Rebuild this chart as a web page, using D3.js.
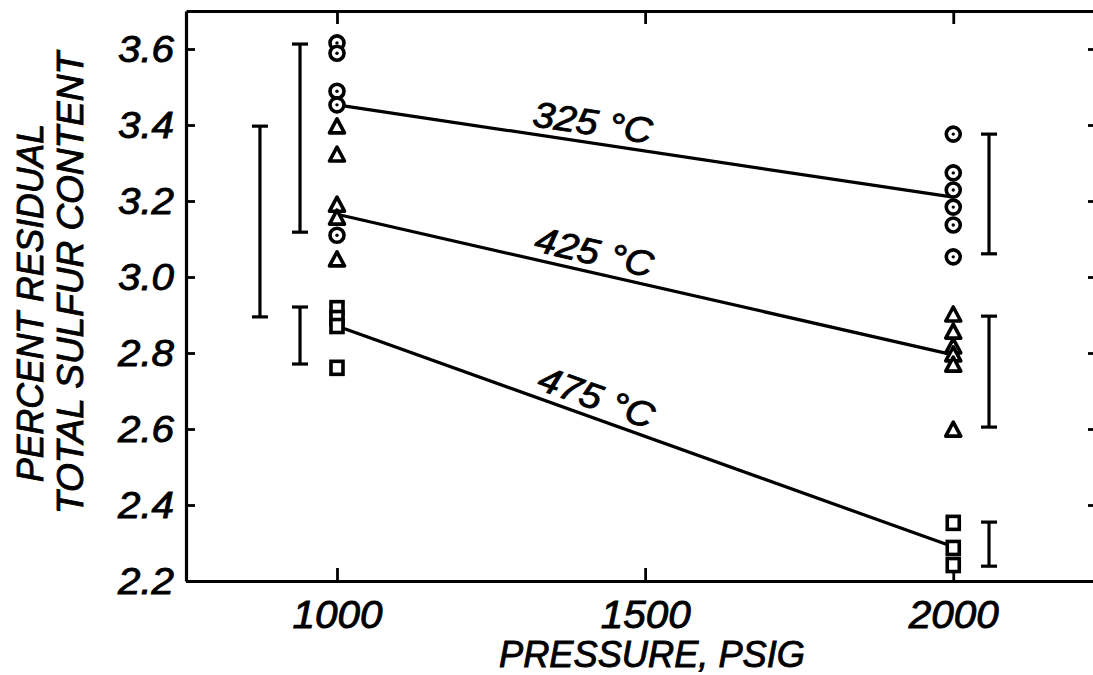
<!DOCTYPE html>
<html>
<head>
<meta charset="utf-8">
<script src="https://d3js.org/d3.v7.min.js"></script>
<style>
  body { margin: 0; background: #fff; }
  text { font-family: "Liberation Sans", Arial, sans-serif; font-style: italic; fill: #000;
         stroke: #000; stroke-width: 0.9px; }
</style>
</head>
<body>
<script>
// readings taken off the chart
var xTicks = [1000, 1500, 2000];
var yTicks = [2.2, 2.4, 2.6, 2.8, 3.0, 3.2, 3.4, 3.6];

var circles1000   = [3.616, 3.589, 3.489, 3.453, 3.11];
var triangles1000 = [3.395, 3.321, 3.189, 3.155, 3.045];
var squares1000   = [2.918, 2.892, 2.871, 2.761];
var circles2000   = [3.376, 3.274, 3.229, 3.184, 3.137, 3.053];
var triangles2000 = [2.900, 2.855, 2.816, 2.795, 2.768, 2.597];
var squares2000   = [2.353, 2.287, 2.242];

var lineLabels = ["325 °C", "425 °C", "475 °C"];
var lineStart  = [3.453, 3.165, 2.871];   // at 1000 psig
var lineEnd    = [3.21, 2.795, 2.29];     // at 2000 psig

var barPressure = [875, 940, 940, 2058, 2058, 2058];
var barLow      = [2.895, 3.118, 2.771, 3.061, 2.605, 2.239];
var barHigh     = [3.397, 3.613, 2.921, 3.376, 2.897, 2.355];

var width = 1093, height = 675;

var svg = d3.select("body").append("svg")
    .attr("width", width)
    .attr("height", height);

var x = d3.scaleLinear().domain([755, 2230]).range([186, 1095]);
var y = d3.scaleLinear().domain([2.2, 3.7]).range([581, 11]);

// frame + ticks
var left = svg.append("g").attr("transform", "translate(186,0)")
    .call(d3.axisLeft(y).tickValues(yTicks).tickSize(-9).tickSizeOuter(0)
        .tickPadding(12).tickFormat(d3.format(".1f")));
var bottom = svg.append("g").attr("transform", "translate(0,581)")
    .call(d3.axisBottom(x).tickValues(xTicks).tickSize(-13).tickSizeOuter(0)
        .tickPadding(12).tickFormat(d3.format("d")));
var top = svg.append("g").attr("transform", "translate(0,11)")
    .call(d3.axisTop(x).tickValues(xTicks).tickSize(-13).tickSizeOuter(0).tickFormat(""));
var right = svg.append("g").attr("transform", "translate(1095,0)")
    .call(d3.axisRight(y).tickValues(yTicks).tickSize(-7).tickSizeOuter(0).tickFormat(""));

svg.selectAll(".domain").attr("stroke", "#000").attr("stroke-width", 3.2);
svg.selectAll(".tick line").attr("stroke", "#000").attr("stroke-width", 2.8);
left.selectAll("text").style("font-size", "36px").attr("dy", "0.36em")
    .attr("textLength", 56).attr("lengthAdjust", "spacingAndGlyphs");
bottom.selectAll("text").style("font-size", "39px").attr("dy", "0.9em")
    .attr("textLength", 90).attr("lengthAdjust", "spacingAndGlyphs");

// axis titles
svg.append("text")
    .attr("x", 652).attr("y", 667)
    .attr("text-anchor", "middle")
    .attr("textLength", 306).attr("lengthAdjust", "spacingAndGlyphs")
    .style("font-size", "36px")
    .text("PRESSURE, PSIG");

svg.append("text")
    .attr("transform", "translate(43,303) rotate(-90)")
    .attr("text-anchor", "middle")
    .attr("textLength", 358).attr("lengthAdjust", "spacingAndGlyphs")
    .style("font-size", "37px")
    .text("PERCENT RESIDUAL");
svg.append("text")
    .attr("transform", "translate(83,283) rotate(-90)")
    .attr("text-anchor", "middle")
    .attr("textLength", 462).attr("lengthAdjust", "spacingAndGlyphs")
    .style("font-size", "37px")
    .text("TOTAL SULFUR CONTENT");

// error bars
var bars = svg.append("g").attr("stroke", "#000").attr("stroke-width", 3.2).attr("fill", "none");
barPressure.forEach(function(p, i) {
    var bx = x(p);
    bars.append("line").attr("x1", bx).attr("x2", bx).attr("y1", y(barLow[i])).attr("y2", y(barHigh[i]));
    bars.append("line").attr("x1", bx - 8).attr("x2", bx + 8).attr("y1", y(barLow[i])).attr("y2", y(barLow[i]));
    bars.append("line").attr("x1", bx - 8).attr("x2", bx + 8).attr("y1", y(barHigh[i])).attr("y2", y(barHigh[i]));
});

// fitted lines and their labels
lineLabels.forEach(function(lab, i) {
    var x1 = x(1000), y1 = y(lineStart[i]), x2 = x(2000), y2 = y(lineEnd[i]);
    svg.append("line")
        .attr("x1", x1).attr("y1", y1).attr("x2", x2).attr("y2", y2)
        .attr("stroke", "#000").attr("stroke-width", 3.2);
    var t = (1410 - 1000) / 1000;
    var lx = x1 + t * (x2 - x1), ly = y1 + t * (y2 - y1);
    var ang = Math.atan2(y2 - y1, x2 - x1) * 180 / Math.PI;
    svg.append("text")
        .attr("transform", "translate(" + lx + "," + ly + ") rotate(" + ang + ")")
        .attr("text-anchor", "middle")
        .attr("y", -8)
        .attr("textLength", 120).attr("lengthAdjust", "spacingAndGlyphs")
        .style("font-size", "36px")
        .text(lab);
});

// markers
function drawCircles(vals, p) {
    var g = svg.append("g");
    g.selectAll("circle.o").data(vals).enter().append("circle")
        .attr("cx", x(p)).attr("cy", function(d) { return y(d); })
        .attr("r", 7).attr("fill", "#fff").attr("stroke", "#000").attr("stroke-width", 3.6);
    g.selectAll("circle.dot").data(vals).enter().append("circle")
        .attr("cx", x(p)).attr("cy", function(d) { return y(d); })
        .attr("r", 1.7).attr("fill", "#000");
}
function drawTriangles(vals, p) {
    svg.append("g").selectAll("path").data(vals).enter().append("path")
        .attr("d", function(d) {
            var cx = x(p), cy = y(d);
            return "M" + cx + "," + (cy - 8) + "L" + (cx + 7.5) + "," + (cy + 6) + "L" + (cx - 7.5) + "," + (cy + 6) + "Z";
        })
        .attr("fill", "#fff").attr("stroke", "#000").attr("stroke-width", 3.6).attr("stroke-linejoin", "round");
}
function drawSquares(vals, p) {
    svg.append("g").selectAll("rect").data(vals).enter().append("rect")
        .attr("x", x(p) - 6).attr("y", function(d) { return y(d) - 6.5; })
        .attr("width", 12).attr("height", 13)
        .attr("fill", "#fff").attr("stroke", "#000").attr("stroke-width", 3.6);
}

drawTriangles(triangles1000, 1000);
drawTriangles(triangles2000, 2000);
drawSquares(squares1000, 1000);
drawSquares(squares2000, 2000);
drawCircles(circles1000, 1000);
drawCircles(circles2000, 2000);
</script>
</body>
</html>
